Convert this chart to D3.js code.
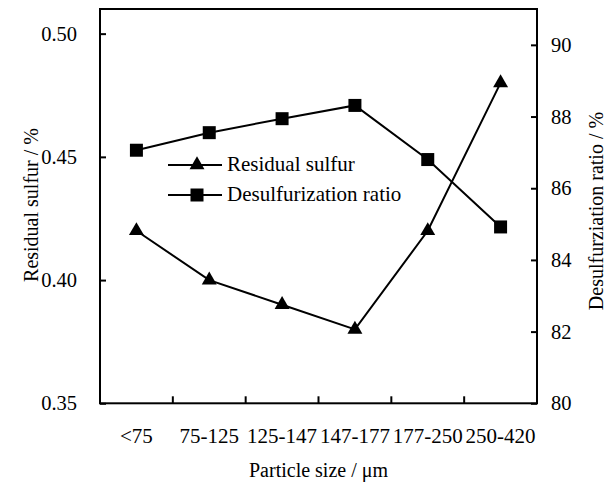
<!DOCTYPE html>
<html>
<head>
<meta charset="utf-8">
<script src="https://cdn.jsdelivr.net/npm/d3@7/dist/d3.min.js"></script>
<style>
  html, body { margin: 0; padding: 0; background: #fff; }
  svg { display: block; }
  text { font-family: "Liberation Serif", "Times New Roman", serif; fill: #000; }
</style>
</head>
<body>
<svg id="chart" width="613" height="483"></svg>
<script>
// ---- data ----
const categories = ["<75", "75-125", "125-147", "147-177", "177-250", "250-420"];
const residualSulfur = [0.42, 0.40, 0.39, 0.38, 0.42, 0.48];
const desulfurizationRatio = [87.06, 87.55, 87.94, 88.31, 86.80, 84.92];
const leftTicks = [0.35, 0.40, 0.45, 0.50];
const rightTicks = [80, 82, 84, 86, 88, 90];
const seriesNames = ["Residual sulfur", "Desulfurization ratio"];

// ---- layout ----
const L = 100, R = 537, T = 9, B = 403.3;
const svg = d3.select("#chart");

const x = d3.scaleBand().domain(categories).range([L, R]).padding(0);
const yL = d3.scaleLinear().domain([0.35, 0.51]).range([B, T]);
const yR = d3.scaleLinear().domain([80, 91]).range([B, T]);

const fontSize = 20;
const tickFont = 20.5;

// frame
svg.append("rect")
  .attr("x", L).attr("y", T).attr("width", R - L).attr("height", B - T)
  .attr("fill", "none").attr("stroke", "#000").attr("stroke-width", 2);

// left axis
const gL = svg.append("g").attr("transform", `translate(${L},0)`)
  .call(d3.axisLeft(yL).tickValues(leftTicks).tickFormat(d3.format(".2f"))
    .tickSizeInner(-6).tickSizeOuter(0).tickPadding(23));
gL.select(".domain").remove();
gL.selectAll("line").attr("stroke", "#000").attr("stroke-width", 2);
gL.selectAll("text").style("font-size", tickFont + "px").style("font-family", "Liberation Serif");

// right axis
const gR = svg.append("g").attr("transform", `translate(${R},0)`)
  .call(d3.axisRight(yR).tickValues(rightTicks).tickFormat(d3.format("d"))
    .tickSizeInner(-6).tickSizeOuter(0).tickPadding(14));
gR.select(".domain").remove();
gR.selectAll("line").attr("stroke", "#000").attr("stroke-width", 2);
gR.selectAll("text").style("font-size", tickFont + "px").style("font-family", "Liberation Serif");

// bottom axis labels
const gB = svg.append("g").attr("transform", `translate(0,${B})`)
  .call(d3.axisBottom(x).tickSize(0).tickPadding(25));
gB.select(".domain").remove();
gB.selectAll("text").style("font-size", "21px").style("font-family", "Liberation Serif");

// bottom ticks at band boundaries
svg.append("g").selectAll("line")
  .data(categories.slice(1))
  .join("line")
  .attr("x1", d => x(d)).attr("x2", d => x(d))
  .attr("y1", B).attr("y2", B - 7)
  .attr("stroke", "#000").attr("stroke-width", 2);

// axis titles
svg.append("text")
  .attr("x", (L + R) / 2).attr("y", 477)
  .attr("text-anchor", "middle")
  .style("font-size", fontSize + "px")
  .text("Particle size / μm");

svg.append("text")
  .attr("transform", "translate(38,205) rotate(-90)")
  .attr("text-anchor", "middle")
  .style("font-size", fontSize + "px")
  .text("Residual sulfur / %");

svg.append("text")
  .attr("transform", "translate(603,211) rotate(-90)")
  .attr("text-anchor", "middle")
  .style("font-size", fontSize + "px")
  .text("Desulfurziation ratio / %");

// series
const cx = d => x(d) + x.bandwidth() / 2;
const triSym = d3.symbol().type(d3.symbolTriangle).size(97);
const sqSym = d3.symbol().type(d3.symbolSquare).size(169);

const lineL = d3.line().x((d, i) => cx(categories[i])).y(d => yL(d));
const lineR = d3.line().x((d, i) => cx(categories[i])).y(d => yR(d));

svg.append("path").datum(desulfurizationRatio).attr("d", lineR)
  .attr("fill", "none").attr("stroke", "#000").attr("stroke-width", 2);
svg.append("path").datum(residualSulfur).attr("d", lineL)
  .attr("fill", "none").attr("stroke", "#000").attr("stroke-width", 2);

svg.append("g").selectAll("path").data(residualSulfur).join("path")
  .attr("d", triSym)
  .attr("transform", (d, i) => `translate(${cx(categories[i])},${yL(d)})`)
  .attr("fill", "#000");

svg.append("g").selectAll("path").data(desulfurizationRatio).join("path")
  .attr("d", sqSym)
  .attr("transform", (d, i) => `translate(${cx(categories[i])},${yR(d)})`)
  .attr("fill", "#000");

// legend
const legend = svg.append("g");
const legY = [165, 195];
const legSyms = [triSym, sqSym];
seriesNames.forEach((name, i) => {
  legend.append("line")
    .attr("x1", 168).attr("x2", 222).attr("y1", legY[i]).attr("y2", legY[i])
    .attr("stroke", "#000").attr("stroke-width", 2);
  legend.append("path").attr("d", legSyms[i])
    .attr("transform", `translate(197,${legY[i]})`).attr("fill", "#000");
  legend.append("text")
    .attr("x", 227).attr("y", legY[i]).attr("dy", "0.3em")
    .style("font-size", "21px")
    .text(name);
});
</script>
</body>
</html>
